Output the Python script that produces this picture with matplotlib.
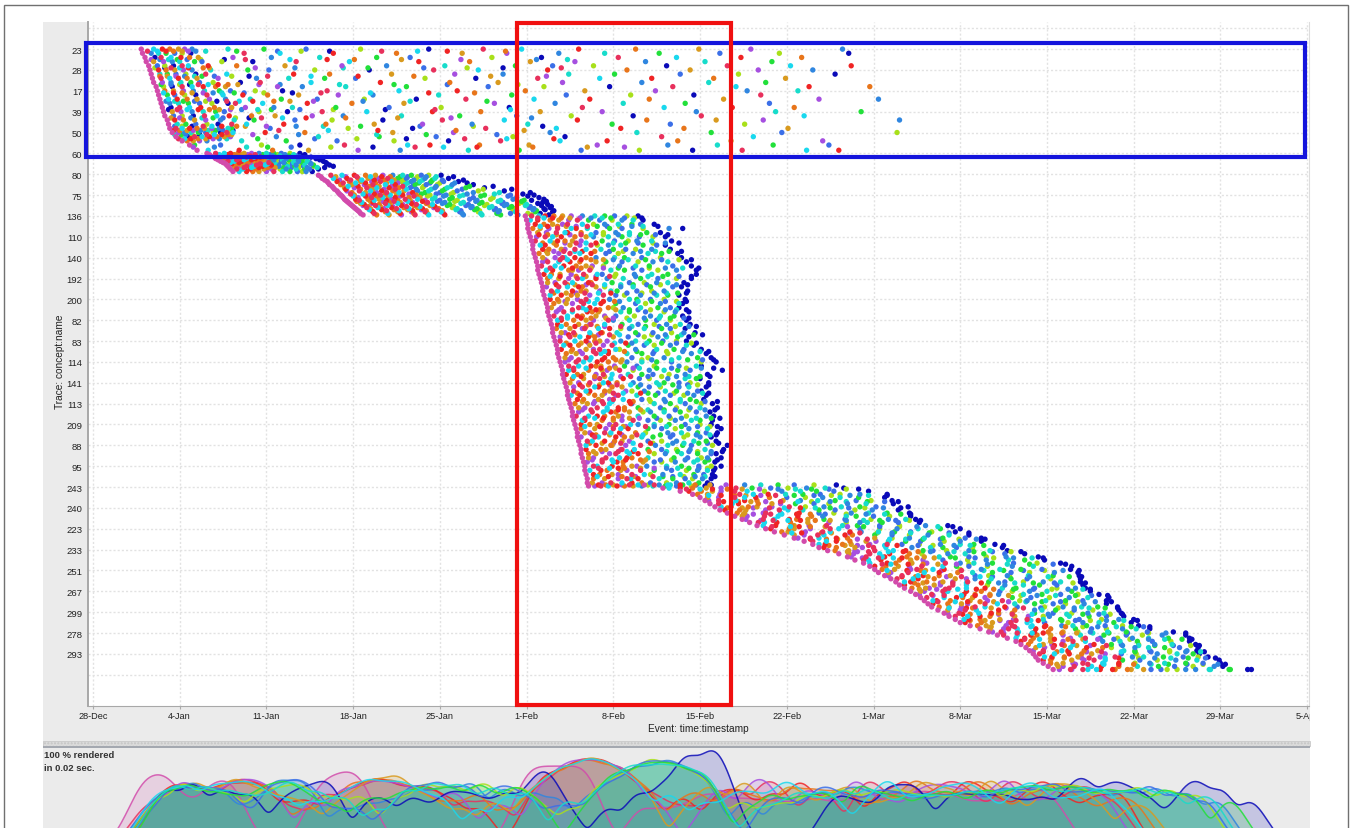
import numpy as np
from matplotlib import pyplot as plt
from matplotlib.patches import Rectangle
from matplotlib.transforms import Bbox

W, H = 1350, 829

x_labels = ['28-Dec', '4-Jan', '11-Jan', '18-Jan', '25-Jan', '1-Feb', '8-Feb', '15-Feb', '22-Feb',
            '1-Mar', '8-Mar', '15-Mar', '22-Mar', '29-Mar', '5-Apr']
y_labels = ['23', '28', '17', '39', '50', '60', '80', '75', '136', '110', '140', '192', '200', '82', '83',
            '114', '141', '113', '209', '88', '95', '243', '240', '223', '233', '251', '267', '299', '278', '293', '']

activity_colors = ['#d24bab', '#e8305c', '#19d8ee', '#f02424', '#e8751a', '#d99a1e', '#a64fe0',
                   '#2f86e0', '#17dccb', '#22e03a', '#3b6fe8', '#a8e01a', '#0a0ab8']

# days since 28-Dec, one list per case
a_rows = [0.0, 0.2, 0.4, 0.6, 0.8, 1.0, 1.2, 1.4, 1.6, 1.8, 2.0, 2.2, 2.4, 2.6, 2.8, 3.0, 3.2, 3.4, 3.6, 3.8, 4.0,
          4.2, 4.4, 4.6, 4.85]
a_days = [
    [3.9, 4.9, 5.6, 6.2, 6.9, 7.4, 8.0, 10.9, 13.8, 17.2, 21.6, 27.1, 31.5, 34.6, 39.2, 43.8, 48.9, 53.1, 60.5],
    [4.0, 4.7, 5.3, 5.9, 6.6, 7.2, 7.9, 12.2, 15.1, 19.4, 24.5, 29.8, 33.4, 37.6, 41.3, 45.7, 50.6, 55.4, 61.0],
    [4.2, 5.0, 5.5, 6.3, 7.1, 7.8, 8.5, 11.3, 14.4, 18.3, 22.9, 25.6, 32.2, 36.2, 42.4, 47.1, 52.3, 57.2],
    [4.3, 4.9, 5.7, 6.4, 7.0, 8.2, 8.8, 10.4, 12.9, 16.4, 20.7, 26.3, 30.4, 35.3, 38.9, 44.6, 49.4, 54.8],
    [4.5, 5.2, 5.8, 6.5, 7.2, 7.7, 9.3, 11.6, 15.5, 20.1, 23.7, 28.4, 34.1, 37.1, 40.4, 46.3, 51.2, 56.3, 61.2],
    [4.6, 5.3, 5.9, 6.6, 7.3, 8.0, 9.5, 12.5, 14.2, 17.9, 22.3, 27.5, 31.1, 36.7, 43.1, 48.2, 53.7, 58.1],
    [4.7, 5.4, 6.0, 6.7, 7.5, 8.3, 9.1, 10.8, 16.2, 19.1, 24.1, 29.2, 33.1, 38.4, 42.1, 47.4, 52.1, 59.9],
    [4.8, 5.5, 6.2, 6.9, 7.6, 8.4, 10.1, 13.2, 15.8, 18.7, 21.2, 26.8, 30.9, 35.9, 40.9, 45.1, 50.1, 55.9],
    [4.9, 5.6, 6.3, 7.1, 7.9, 8.6, 9.7, 11.9, 13.5, 17.6, 23.2, 28.8, 32.7, 37.9, 44.3, 49.7, 54.3],
    [5.1, 5.7, 6.4, 7.2, 8.0, 8.9, 9.9, 10.7, 14.9, 16.9, 20.4, 25.3, 31.9, 36.4, 41.7, 46.8, 51.9, 57.8, 62.7],
    [5.2, 5.8, 6.5, 7.3, 8.1, 9.0, 10.2, 11.1, 13.1, 15.3, 18.9, 24.7, 29.4, 34.9, 39.7, 45.4, 52.8, 56.9],
    [5.3, 6.0, 6.6, 7.4, 8.3, 9.2, 10.5, 12.1, 14.1, 16.6, 19.8, 22.6, 27.9, 33.8, 38.2, 43.4, 48.5, 53.9],
    [5.4, 6.1, 6.8, 7.6, 8.4, 9.4, 10.7, 12.7, 15.2, 18.1, 21.9, 26.1, 30.1, 35.6, 40.1, 44.9, 50.9, 58.6, 63.4],
    [5.5, 6.2, 6.9, 7.7, 8.6, 9.6, 10.9, 11.5, 13.7, 17.3, 20.9, 25.1, 32.4, 37.3, 42.8, 47.8, 54.6],
    [5.6, 6.3, 7.0, 7.8, 8.7, 9.8, 11.2, 12.3, 14.6, 16.1, 19.6, 23.9, 28.1, 33.6, 39.5, 46.1, 51.6, 56.6],
    [5.7, 6.4, 7.1, 8.0, 8.9, 9.9, 10.6, 13.4, 15.7, 18.5, 22.1, 27.4, 31.3, 36.1, 41.1, 48.7, 55.1, 62.0],
    [5.8, 6.5, 7.2, 8.1, 9.0, 10.0, 11.0, 12.8, 14.7, 17.7, 20.2, 24.9, 29.6, 34.2, 38.6, 43.6, 49.1, 57.4],
    [6.0, 6.6, 7.3, 8.2, 9.1, 10.3, 11.4, 13.0, 16.3, 19.3, 23.4, 28.2, 33.2, 39.1, 44.7, 50.3, 54.1, 65.1],
    [6.1, 6.8, 7.5, 8.3, 9.2, 10.1, 11.2, 12.4, 15.4, 18.8, 22.7, 26.6, 30.6, 35.1, 41.9, 46.6, 52.6],
    [6.2, 6.7, 7.2, 7.8, 8.4, 9.0, 9.6, 10.2, 10.9, 11.2, 14.3, 20.6, 25.8, 31.7, 37.4, 42.6, 47.7, 56.1],
    [6.4, 6.9, 7.4, 7.9, 8.5, 9.1, 9.7, 10.3, 10.8, 11.3, 13.9, 17.1, 24.2, 29.1, 36.9, 43.9, 49.9, 55.6, 64.9],
    [6.7, 7.2, 7.7, 8.2, 8.8, 9.4, 10.0, 10.6, 11.1, 14.8, 18.2, 23.1, 27.7, 33.9, 38.1, 45.9, 53.3],
    [7.2, 7.6, 8.1, 8.6, 9.2, 12.0, 15.6, 19.7, 24.3, 28.7, 32.9, 37.7, 41.5, 47.2, 51.5, 58.9],
    [7.8, 8.2, 10.3, 13.6, 16.7, 20.3, 25.4, 27.2, 31.2, 35.2, 40.7, 46.4, 50.4, 54.9, 59.4],
    [8.4, 9.3, 11.8, 14.5, 17.4, 21.4, 24.8, 30.3, 34.4, 39.4, 44.1, 48.4, 52.4, 57.6, 60.2],
]
a2_rows = [0.1, 0.5, 0.9, 1.3, 1.7, 2.1, 2.5, 2.9, 3.3, 3.7, 3.9, 4.1, 4.3, 4.7]
a2_days = [
    [4.4, 5.2, 5.9, 6.5, 7.2, 7.7, 8.3, 9.1, 11.6, 14.9, 16.8, 19.1, 23.3, 26.2, 28.6, 33.3],
    [4.7, 5.4, 6.1, 6.8, 7.6, 8.7, 10.6, 12.3, 15.9, 18.9, 21.1, 24.9, 29.7, 35.8, 38.3],
    [5.0, 5.8, 6.3, 7.0, 7.7, 8.9, 9.4, 13.1, 16.3, 20.2, 22.2, 26.7, 30.2, 33.1, 37.8],
    [5.4, 6.0, 6.7, 7.4, 8.2, 8.8, 9.8, 11.2, 12.6, 14.1, 17.6, 21.4, 25.9, 32.1, 36.6],
    [5.5, 6.3, 7.0, 7.8, 8.5, 9.3, 10.1, 10.9, 11.7, 13.4, 15.1, 19.9, 24.3, 28.6, 34.3],
    [5.7, 6.5, 7.2, 8.0, 8.9, 9.7, 10.4, 11.4, 12.2, 13.8, 16.1, 18.4, 22.4, 27.1, 30.8],
    [5.9, 6.6, 7.3, 8.2, 9.1, 10.0, 10.8, 11.8, 12.9, 14.6, 15.9, 17.8, 21.8, 25.6, 31.8],
    [6.1, 6.8, 7.6, 8.5, 9.4, 10.2, 11.1, 12.0, 13.3, 14.4, 16.7, 19.4, 23.6, 27.6, 33.7],
    [6.3, 7.0, 7.9, 8.8, 9.7, 10.5, 11.5, 12.6, 13.6, 15.3, 17.2, 20.4, 24.6, 28.9, 35.4],
    [6.6, 7.2, 8.0, 8.9, 9.6, 10.4, 11.6, 12.3, 14.0, 16.4, 18.6, 21.6, 26.4, 30.7, 36.3],
    [6.5, 7.0, 7.6, 8.1, 8.7, 9.3, 9.9, 10.5, 11.0, 11.3, 15.0, 19.0, 23.0, 29.3, 34.8],
    [6.6, 7.1, 7.5, 8.0, 8.6, 9.2, 9.8, 10.4, 10.9, 11.2, 12.9, 16.6, 22.9, 26.9, 32.6],
    [6.9, 7.4, 7.9, 8.5, 9.1, 9.7, 10.2, 10.8, 13.3, 17.9, 21.3, 25.3, 30.0, 33.4, 37.2],
    [8.1, 9.8, 12.4, 14.1, 16.0, 19.2, 22.6, 26.0, 28.3, 31.0, 35.5, 39.9, 42.9],
]

b_rows = [5.0, 5.06, 5.12, 5.18, 5.25, 5.31, 5.38, 5.44, 5.5, 5.56, 5.62, 5.68, 5.75, 5.87]
b_days = [
    [9.2, 9.9, 10.6, 11.1, 11.7, 12.2, 12.8, 13.4, 14.0, 14.6, 15.2, 15.9, 16.7],
    [9.4, 10.2, 10.9, 11.4, 12.0, 12.5, 13.1, 13.7, 14.3, 14.9, 15.5, 16.2, 17.1],
    [9.5, 10.3, 11.0, 11.5, 12.1, 12.7, 13.2, 13.9, 14.5, 15.1, 15.8, 16.4, 17.0],
    [9.8, 10.6, 11.3, 11.9, 12.4, 13.0, 13.5, 14.1, 14.8, 15.4, 16.1, 16.7, 17.6],
    [9.9, 10.5, 11.2, 11.8, 12.4, 13.1, 13.6, 14.2, 14.9, 15.6, 16.2, 16.9, 18.0],
    [10.1, 10.8, 11.6, 12.2, 12.8, 13.3, 13.8, 14.6, 15.3, 15.8, 16.5, 17.2, 18.3],
    [10.3, 10.9, 11.4, 12.0, 12.6, 13.3, 13.9, 14.5, 15.2, 15.9, 16.6, 17.3, 18.6],
    [10.5, 11.1, 11.8, 12.5, 13.1, 13.6, 14.2, 14.8, 15.4, 16.2, 16.9, 17.5, 18.8],
    [10.7, 11.2, 11.7, 12.3, 12.9, 13.5, 14.1, 14.7, 15.5, 16.1, 16.8, 17.6, 18.9],
    [10.8, 11.5, 12.0, 12.6, 13.2, 13.9, 14.4, 15.0, 15.8, 16.4, 17.1, 17.8, 19.1],
    [10.9, 11.4, 11.9, 12.4, 13.0, 13.7, 14.3, 15.0, 15.7, 16.3, 17.0, 17.8, 19.4],
    [11.0, 11.5, 12.2, 12.8, 13.4, 14.1, 14.7, 15.4, 16.0, 16.6, 17.3, 18.1, 18.7],
    [11.1, 11.6, 12.1, 12.7, 13.2, 13.8, 14.4, 15.1, 15.6, 16.4, 17.1, 17.5, 18.2],
    [11.3, 11.8, 12.4, 12.9, 13.4, 14.0, 14.6, 15.3, 15.9, 16.5, 16.9, 17.2, 17.7],
]

c_rows = [6.05, 6.2, 6.35, 6.5, 6.65, 6.8, 6.95, 7.05, 7.2, 7.3, 7.4, 7.5, 7.6, 7.7, 7.8, 7.95,
          6.12, 6.28, 6.42, 6.58, 6.72, 6.88, 7.0, 7.12, 7.25, 7.35, 7.45, 7.55, 7.65, 7.75, 7.88]
c_days = [
    [18.2, 19.2, 20.1, 21.1, 22.0, 22.8, 23.4, 24.2, 25.0, 25.7, 26.5, 27.1, 28.1],
    [18.5, 19.4, 20.5, 21.4, 22.2, 23.0, 23.8, 24.6, 25.3, 26.1, 26.8, 27.6, 28.7],
    [18.9, 19.7, 20.7, 21.6, 22.5, 23.2, 24.1, 24.9, 25.7, 26.4, 27.3, 28.3, 29.5],
    [19.1, 20.0, 20.9, 21.9, 22.6, 23.6, 24.4, 25.2, 26.0, 26.9, 27.8, 29.0, 30.7],
    [19.4, 20.3, 21.1, 22.1, 22.9, 23.9, 24.7, 25.6, 26.6, 27.6, 28.6, 30.1, 31.6],
    [19.7, 20.5, 21.5, 22.4, 23.3, 24.2, 25.1, 26.2, 27.1, 28.2, 29.4, 31.1, 33.2],
    [19.9, 20.8, 21.8, 22.7, 23.6, 24.5, 25.5, 26.5, 27.7, 28.9, 30.2, 32.4, 34.7],
    [20.1, 21.0, 22.0, 22.9, 23.8, 24.8, 25.9, 27.0, 28.3, 29.6, 31.3, 33.5, 35.1],
    [20.3, 21.2, 22.2, 23.1, 24.1, 25.2, 26.2, 27.4, 28.8, 30.4, 32.1, 33.9, 36.4],
    [20.5, 21.3, 22.4, 23.4, 24.3, 25.4, 26.6, 27.8, 29.2, 30.9, 32.7, 34.6, 36.6],
    [20.7, 21.6, 22.5, 23.6, 24.6, 25.7, 26.9, 28.2, 29.7, 31.2, 33.0, 34.4, 35.9],
    [20.9, 21.8, 22.8, 23.8, 24.9, 25.9, 27.2, 28.6, 30.1, 31.6, 33.2, 34.9, 36.2],
    [21.1, 22.1, 23.0, 24.1, 25.1, 26.2, 27.5, 29.0, 30.5, 32.0, 33.6, 35.2, 36.9],
    [21.3, 22.3, 23.3, 24.3, 25.4, 26.5, 27.8, 29.3, 30.8, 32.4, 33.9, 35.5, 36.5],
    [21.5, 22.6, 23.6, 24.6, 25.7, 26.8, 28.1, 29.6, 31.1, 32.7, 34.1, 35.7, 37.1],
    [21.8, 22.9, 23.9, 24.9, 26.0, 27.1, 28.4, 29.9, 31.4, 32.9, 34.3, 35.4, 36.8],
    [18.4, 19.6, 20.4, 21.3, 22.4, 23.3, 24.0, 24.8, 25.4, 26.2, 26.9, 27.7, 29.1],
    [18.7, 19.9, 20.8, 21.7, 22.7, 23.5, 24.3, 25.1, 25.9, 26.6, 27.4, 28.2, 29.9],
    [19.0, 20.2, 21.2, 22.0, 22.8, 23.7, 24.6, 25.4, 26.3, 27.2, 28.0, 29.2, 30.2],
    [19.3, 20.6, 21.4, 22.3, 23.1, 24.1, 25.0, 25.8, 26.7, 27.7, 28.9, 30.4, 32.3],
    [19.5, 20.4, 21.6, 22.6, 23.5, 24.4, 25.3, 26.1, 27.3, 28.4, 29.8, 31.5, 33.8],
    [19.8, 20.9, 22.0, 22.9, 23.7, 24.7, 25.8, 26.8, 28.0, 29.1, 30.7, 32.8, 35.3],
    [20.0, 21.1, 22.3, 23.2, 24.0, 25.0, 26.1, 27.2, 28.5, 29.9, 31.6, 33.7, 35.6],
    [20.2, 21.4, 22.5, 23.4, 24.4, 25.5, 26.4, 27.6, 29.0, 30.7, 32.3, 34.2, 36.0],
    [20.4, 21.5, 22.7, 23.7, 24.6, 25.6, 26.8, 28.0, 29.4, 31.0, 32.9, 34.8, 35.4],
    [20.6, 21.7, 22.6, 23.9, 24.8, 25.8, 27.0, 28.4, 29.9, 31.4, 33.1, 34.7, 36.3],
    [20.8, 21.9, 23.1, 24.0, 25.0, 26.1, 27.4, 28.8, 30.3, 31.8, 33.4, 35.0, 36.7],
    [21.0, 22.2, 23.2, 24.2, 25.3, 26.4, 27.6, 29.1, 30.6, 32.2, 33.8, 35.3, 37.0],
    [21.2, 22.4, 23.5, 24.5, 25.5, 26.6, 27.9, 29.4, 31.0, 32.5, 34.0, 35.6, 36.4],
    [21.4, 22.5, 23.7, 24.7, 25.8, 26.9, 28.2, 29.7, 31.2, 32.8, 34.2, 35.8, 37.2],
    [21.6, 22.7, 23.8, 24.8, 25.9, 27.0, 28.3, 29.8, 31.3, 32.6, 33.7, 35.1, 36.1],
]

d_rows = [8.0, 8.2, 8.4, 8.6, 8.8, 9.0, 9.2, 9.4, 9.6, 9.8, 10.0, 10.2, 10.4, 10.6, 10.8, 11.0, 11.2, 11.4, 11.6,
          11.8, 12.0, 12.2, 12.4, 12.6, 12.8, 13.0, 13.2, 13.4, 13.6, 13.8, 14.0, 14.2, 14.4, 14.6, 14.8, 15.0,
          15.2, 15.4, 15.6, 15.8, 16.0, 16.2, 16.4, 16.6, 16.8, 17.0, 17.2, 17.4, 17.6, 17.8, 18.0, 18.2, 18.4,
          18.6, 18.8, 19.0, 19.2, 19.4, 19.6, 19.8, 20.0, 20.2, 20.4, 20.6, 20.8, 20.95]
d_starts = [34.9, 35.0, 35.1, 35.1, 35.2, 35.3, 35.4, 35.5, 35.5, 35.6, 35.7, 35.8, 35.9, 35.9, 36.0, 36.1, 36.2,
            36.3, 36.3, 36.4, 36.5, 36.6, 36.7, 36.7, 36.8, 36.9, 37.0, 37.1, 37.1, 37.2, 37.3, 37.4, 37.5, 37.5,
            37.6, 37.7, 37.8, 37.9, 37.9, 38.0, 38.1, 38.2, 38.3, 38.3, 38.4, 38.5, 38.6, 38.7, 38.7, 38.8, 38.9,
            39.0, 39.1, 39.1, 39.2, 39.3, 39.4, 39.4, 39.5, 39.6, 39.7, 39.7, 39.8, 39.9, 39.9, 40.0]
d_offsets = [
    [0.5, 1.1, 1.6, 2.3, 3.0, 3.7, 4.6, 5.6, 6.4, 7.2, 8.2, 9.1],
    [0.3, 0.9, 1.9, 2.6, 3.4, 4.1, 5.0, 5.9, 6.9, 7.7, 8.6, 9.4],
    [0.6, 1.3, 2.0, 2.8, 3.2, 4.4, 5.3, 6.2, 7.3, 8.4, 9.1, 10.2],
    [0.4, 1.0, 1.7, 2.4, 3.5, 3.9, 4.8, 6.6, 7.6, 9.3, 11.4, 12.5],
    [0.7, 1.4, 2.2, 2.9, 3.1, 4.2, 5.4, 6.0, 7.0, 8.1, 9.5, 10.6],
    [0.5, 1.2, 1.8, 2.5, 3.6, 4.5, 5.1, 6.3, 7.4, 8.8, 9.9, 10.9],
    [0.3, 1.5, 2.1, 2.7, 3.3, 4.0, 5.7, 6.7, 7.8, 8.5, 9.7, 11.3],
    [0.6, 1.0, 1.9, 3.0, 3.8, 4.7, 5.2, 6.1, 7.1, 8.9, 10.0, 10.7],
    [0.8, 1.3, 2.3, 2.6, 3.4, 4.3, 5.5, 6.5, 7.5, 8.3, 9.6, 11.1],
    [0.4, 1.1, 2.0, 2.9, 3.7, 4.6, 5.8, 6.8, 8.0, 9.2, 10.3, 11.6],
    [0.6, 1.6, 2.2, 2.4, 3.2, 4.1, 4.9, 6.4, 7.2, 8.6, 10.1, 11.8],
    [0.5, 0.9, 1.8, 2.7, 3.5, 4.8, 5.6, 6.9, 8.2, 9.4, 10.6, 12.1],
    [0.3, 1.4, 2.1, 3.1, 3.9, 4.4, 5.3, 6.6, 7.9, 9.0, 10.9, 12.4],
    [0.7, 1.2, 2.5, 2.8, 3.3, 4.2, 5.9, 7.0, 8.4, 9.7, 11.2, 12.8],
    [0.4, 1.0, 1.7, 2.6, 3.6, 4.7, 5.1, 6.2, 7.7, 9.1, 10.4, 12.7],
    [0.6, 1.5, 2.3, 3.0, 3.4, 4.5, 5.4, 6.7, 8.1, 9.5, 11.0, 12.2],
    [0.5, 1.1, 1.9, 2.5, 3.8, 4.0, 5.7, 7.1, 8.3, 9.3, 10.2, 11.5],
    [0.3, 1.3, 2.0, 2.9, 3.2, 4.3, 5.0, 6.3, 7.3, 8.7, 10.5, 11.2],
    [0.7, 1.2, 2.4, 3.1, 3.5, 4.6, 5.5, 6.0, 7.6, 8.8, 9.8, 11.7],
    [0.5, 1.4, 2.2, 2.7, 3.7, 4.8, 5.8, 6.5, 7.8, 9.1, 10.0, 10.9],
    [0.4, 1.0, 1.8, 2.6, 3.3, 4.2, 5.2, 6.8, 7.4, 8.5, 9.6, 11.3],
    [0.6, 1.6, 2.1, 3.0, 3.9, 4.4, 5.6, 7.2, 8.0, 9.2, 10.7, 11.0],
    [0.3, 1.1, 2.5, 2.8, 3.4, 4.9, 5.3, 6.1, 7.5, 8.9, 9.9, 10.6],
    [0.7, 1.3, 2.0, 3.2, 3.6, 4.1, 5.9, 6.6, 7.9, 9.4, 10.3, 11.4],
    [0.4, 1.5, 2.3, 2.7, 3.8, 4.5, 5.4, 6.9, 8.2, 9.0, 10.1, 10.8],
    [0.6, 0.9, 1.9, 2.9, 3.5, 4.7, 5.1, 6.4, 7.7, 8.6, 9.7, 11.0],
    [0.5, 1.2, 2.2, 3.1, 3.2, 4.3, 5.7, 7.0, 8.3, 9.3, 10.4, 11.2],
    [0.3, 1.4, 2.4, 2.6, 3.7, 4.6, 5.5, 6.2, 7.4, 8.8, 9.5, 10.7],
    [0.7, 1.0, 1.7, 3.0, 3.9, 4.0, 5.2, 6.7, 8.1, 9.6, 10.6, 11.5],
    [0.5, 1.3, 2.1, 2.8, 3.3, 4.8, 6.0, 7.3, 8.4, 9.1, 10.0, 10.9],
    [0.4, 1.6, 2.5, 3.2, 3.6, 4.2, 5.3, 6.5, 7.6, 8.7, 9.8, 10.6],
    [0.6, 1.1, 1.8, 2.7, 3.8, 4.5, 5.8, 7.1, 7.9, 9.2, 10.5, 11.1],
    [0.3, 1.2, 2.3, 2.9, 3.4, 4.7, 5.0, 6.3, 8.0, 9.4, 10.2, 11.6],
    [0.7, 1.5, 2.0, 3.1, 3.5, 4.1, 5.6, 6.8, 7.7, 8.9, 10.8, 12.0],
    [0.5, 1.0, 2.2, 2.6, 3.7, 4.4, 5.9, 7.2, 8.5, 9.7, 11.2, 12.3],
    [0.4, 1.3, 1.9, 3.0, 3.9, 4.9, 5.4, 6.6, 7.8, 9.0, 11.4, 12.6],
    [0.6, 1.4, 2.4, 2.8, 3.2, 4.3, 5.1, 6.1, 7.5, 9.5, 10.9, 11.3],
    [0.5, 0.9, 2.1, 3.2, 3.6, 4.6, 5.7, 7.0, 8.2, 9.3, 10.3, 12.9],
    [0.3, 1.2, 1.7, 2.7, 3.3, 4.0, 5.3, 6.4, 7.3, 8.6, 9.9, 11.7],
    [0.7, 1.6, 2.5, 2.9, 3.8, 4.8, 6.1, 6.9, 8.4, 9.8, 10.7, 11.0],
    [0.4, 1.1, 2.0, 3.1, 3.5, 4.2, 5.5, 7.4, 8.0, 9.2, 10.1, 11.6],
    [0.6, 1.3, 2.3, 2.6, 3.7, 4.5, 5.8, 6.7, 7.6, 9.1, 9.9, 11.3],
    [0.5, 1.5, 1.8, 3.0, 3.4, 4.7, 5.2, 6.2, 7.9, 8.8, 10.5, 10.8],
    [0.3, 1.0, 2.2, 2.8, 3.9, 4.1, 5.6, 7.1, 8.3, 9.4, 10.2, 11.2],
    [0.7, 1.2, 2.4, 3.3, 3.6, 4.4, 5.9, 6.5, 7.7, 9.0, 9.8, 10.9],
    [0.4, 1.4, 1.9, 2.7, 3.2, 4.9, 5.0, 6.8, 8.1, 9.3, 10.6, 11.5],
    [0.6, 1.1, 2.1, 2.9, 3.8, 4.3, 5.4, 7.2, 8.5, 9.6, 10.4, 11.8],
    [0.5, 1.6, 2.5, 3.1, 3.5, 4.6, 5.7, 6.3, 7.4, 8.7, 10.0, 11.1],
    [0.3, 1.3, 2.0, 2.6, 3.7, 4.0, 5.3, 6.6, 7.8, 9.2, 10.8, 11.4],
    [0.7, 0.9, 2.3, 3.2, 3.9, 4.8, 6.0, 7.0, 8.2, 9.5, 10.2, 11.2],
    [0.5, 1.2, 1.8, 2.8, 3.3, 4.5, 5.1, 6.4, 7.6, 8.9, 10.1, 11.0],
    [0.4, 1.5, 2.4, 3.0, 3.6, 4.2, 5.8, 6.9, 8.0, 9.1, 10.6, 11.7],
    [0.6, 1.0, 2.2, 2.7, 3.4, 4.7, 5.5, 7.3, 8.4, 9.7, 10.4, 11.3],
    [0.3, 1.4, 1.7, 3.1, 3.8, 4.4, 5.2, 6.1, 7.5, 8.6, 9.9, 10.8],
    [0.7, 1.1, 2.1, 2.9, 3.5, 4.1, 5.6, 6.7, 7.9, 9.3, 10.3, 11.1],
    [0.5, 1.3, 2.5, 2.6, 3.7, 4.9, 6.1, 7.1, 8.3, 9.0, 10.7, 11.9],
    [0.4, 1.6, 2.0, 3.2, 3.3, 4.3, 5.4, 6.5, 7.7, 8.8, 10.0, 11.5],
    [0.6, 1.2, 2.3, 2.8, 3.9, 4.6, 5.9, 6.8, 8.1, 9.4, 10.5, 10.9],
    [0.5, 0.9, 1.9, 3.0, 3.6, 4.0, 5.3, 7.4, 8.5, 9.6, 10.1, 11.2],
    [0.3, 1.5, 2.4, 2.7, 3.2, 4.8, 5.7, 6.3, 7.4, 8.9, 9.8, 10.6],
    [0.7, 1.0, 2.2, 3.1, 3.8, 4.2, 5.0, 6.6, 7.8, 9.2, 10.2, 11.0],
    [0.4, 1.3, 1.8, 2.9, 3.4, 4.5, 5.6, 7.0, 8.2, 9.1, 9.9, 10.4],
    [0.6, 1.1, 2.1, 2.6, 3.7, 4.7, 5.2, 6.2, 7.6, 8.7, 9.5, 10.2],
    [0.5, 1.4, 2.5, 3.2, 3.5, 4.1, 5.8, 6.9, 7.9, 8.5, 9.3, 10.0],
    [0.4, 1.2, 1.9, 2.8, 3.6, 4.4, 5.1, 6.4, 7.2, 8.2, 9.0, 9.7],
    [0.5, 1.0, 1.6, 2.3, 2.9, 3.6, 4.3, 5.2, 6.2, 7.1, 8.3, 9.4],
]

# cases lying between the rows above
d2_rows = [8.1, 8.5, 8.9, 9.3, 9.7, 10.1, 10.5, 10.9, 11.3, 11.7, 12.1, 12.5, 12.9, 13.3, 13.7, 14.1, 14.5, 14.9,
           15.3, 15.7, 16.1, 16.5, 16.9, 17.3, 17.7, 18.1, 18.5, 18.9, 19.3, 19.7, 20.1, 20.5, 20.9]
d2_starts = [35.0, 35.1, 35.2, 35.4, 35.5, 35.7, 35.9, 36.0, 36.2, 36.4, 36.5, 36.7, 36.8, 37.0, 37.2, 37.3, 37.5,
             37.6, 37.8, 37.9, 38.1, 38.3, 38.4, 38.6, 38.7, 38.9, 39.1, 39.2, 39.4, 39.5, 39.7, 39.8, 40.0]
d2_offsets = [
    [0.9, 1.4, 2.1, 2.8, 3.5, 4.3, 5.2, 6.1, 6.8, 7.9, 8.7, 9.3],
    [1.0, 1.6, 2.4, 3.1, 3.9, 4.8, 5.6, 6.4, 7.4, 8.4, 9.3, 10.5],
    [0.8, 1.5, 2.2, 3.3, 4.2, 5.0, 6.0, 7.2, 8.1, 9.0, 10.2, 11.2],
    [0.9, 1.8, 2.7, 3.6, 4.4, 5.2, 6.6, 7.6, 8.6, 9.8, 10.8, 11.9],
    [1.1, 1.7, 2.5, 3.4, 4.0, 5.0, 6.2, 7.3, 8.7, 9.9, 11.0, 12.0],
    [0.8, 2.0, 2.6, 3.7, 4.5, 5.5, 6.3, 7.5, 8.9, 10.2, 11.6, 12.6],
    [1.0, 1.9, 2.8, 3.5, 4.3, 5.3, 6.5, 7.7, 9.0, 10.3, 11.7, 13.0],
    [0.9, 1.7, 3.0, 3.8, 4.6, 5.7, 6.1, 7.8, 8.8, 10.0, 11.3, 12.3],
    [1.2, 2.1, 2.7, 3.6, 4.1, 5.1, 6.4, 7.4, 8.5, 9.6, 10.9, 11.8],
    [0.8, 1.8, 2.6, 3.3, 4.4, 5.4, 6.7, 7.9, 8.9, 9.9, 10.8, 11.5],
    [1.1, 1.6, 2.9, 3.5, 4.7, 5.6, 6.0, 7.5, 8.6, 9.7, 10.6, 11.4],
    [0.9, 2.0, 3.1, 3.9, 4.2, 5.5, 6.6, 7.3, 8.3, 9.5, 10.4, 11.2],
    [1.0, 1.5, 2.6, 3.4, 4.6, 5.2, 6.3, 7.7, 8.9, 9.8, 10.9, 11.3],
    [0.8, 1.9, 2.8, 3.7, 4.3, 5.6, 6.5, 7.6, 8.7, 10.0, 11.1, 11.7],
    [1.2, 1.7, 3.0, 3.6, 4.5, 5.3, 6.8, 7.9, 9.0, 10.3, 11.3, 12.0],
    [0.9, 2.1, 2.7, 3.3, 4.8, 5.7, 6.2, 7.4, 8.6, 9.8, 11.0, 11.4],
    [1.1, 1.8, 2.9, 3.8, 4.1, 5.4, 6.4, 7.8, 8.8, 10.1, 11.5, 12.2],
    [0.8, 1.6, 2.5, 3.5, 4.6, 5.1, 6.7, 7.5, 9.1, 10.4, 11.6, 12.5],
    [1.0, 2.0, 3.2, 3.9, 4.4, 5.8, 6.3, 7.7, 8.9, 10.1, 11.3, 12.3],
    [0.9, 1.5, 2.6, 3.4, 4.7, 5.5, 6.9, 8.0, 9.2, 10.2, 11.1, 11.9],
    [1.2, 1.9, 2.8, 3.6, 4.2, 5.3, 6.1, 7.6, 8.7, 9.9, 10.7, 11.6],
    [0.8, 1.7, 3.0, 3.7, 4.5, 5.9, 6.5, 7.3, 8.6, 9.7, 10.9, 11.4],
    [1.1, 2.1, 2.7, 3.5, 4.9, 5.2, 6.6, 7.8, 9.0, 10.3, 11.0, 12.0],
    [0.9, 1.6, 2.9, 3.8, 4.3, 5.6, 6.2, 7.5, 8.4, 9.5, 10.8, 11.6],
    [1.0, 1.8, 2.5, 3.3, 4.6, 5.4, 6.8, 7.9, 8.8, 10.0, 11.2, 11.9],
    [0.8, 2.0, 3.1, 3.9, 4.1, 5.7, 6.4, 7.4, 8.6, 9.9, 10.9, 11.5],
    [1.2, 1.5, 2.6, 3.6, 4.8, 5.3, 6.7, 7.7, 8.9, 9.6, 10.7, 11.2],
    [0.9, 1.9, 2.8, 3.4, 4.4, 5.8, 6.0, 7.6, 8.5, 9.7, 10.4, 11.3],
    [1.0, 1.7, 3.0, 3.7, 4.2, 5.5, 6.9, 7.8, 8.7, 9.4, 10.5, 11.4],
    [0.8, 1.6, 2.4, 3.5, 4.7, 5.1, 6.3, 7.2, 8.3, 9.3, 10.2, 10.9],
    [1.1, 2.0, 2.7, 3.2, 4.5, 5.6, 6.6, 7.5, 8.4, 9.2, 9.9, 10.5],
    [0.9, 1.8, 2.9, 3.8, 4.0, 5.4, 6.2, 7.0, 7.9, 8.8, 9.6, 10.4],
    [0.8, 1.4, 2.0, 2.7, 3.3, 4.0, 4.8, 5.7, 6.6, 7.6, 8.7, 9.9],
]

e_rows = [20.9, 21.05, 21.2, 21.35, 21.5, 21.65, 21.8, 21.95, 22.1, 22.25, 22.4, 22.55, 22.7, 22.85, 23.0, 23.15,
          23.3, 23.45, 23.6, 23.75, 23.9, 24.05, 24.2, 24.35, 24.5, 24.65, 24.8, 24.95, 25.1, 25.25, 25.4, 25.55,
          25.7, 25.85, 26.0, 26.15, 26.3, 26.45, 26.6, 26.75, 26.9, 27.05, 27.2, 27.35, 27.5, 27.65, 27.8, 27.95,
          28.1, 28.25, 28.4, 28.55, 28.7, 28.85, 29.0, 29.15, 29.3, 29.45, 29.6, 29.75]
e_starts = [44.5, 46.0, 47.4, 48.4, 49.0, 49.4, 49.8, 50.2, 50.6, 51.2, 51.8, 52.4, 53.0, 53.6, 54.3, 55.0, 55.8,
            56.6, 57.4, 58.1, 58.6, 59.3, 60.2, 60.9, 61.5, 62.2, 62.7, 63.1, 63.4, 63.9, 64.4, 64.8, 65.1, 65.5,
            66.0, 66.4, 66.8, 67.1, 67.4, 67.7, 68.2, 68.7, 69.1, 69.6, 70.0, 70.8, 71.6, 72.3, 73.0, 73.8, 74.5,
            74.9, 75.3, 75.6, 75.9, 76.1, 76.3, 76.7, 77.1, 77.5]
e_offsets = [
    [0.8, 1.9, 2.9, 4.1, 5.3, 6.6, 8.1, 9.4, 10.8, 12.1, 13.7, 15.5],
    [0.5, 1.4, 2.4, 3.5, 4.7, 5.9, 7.2, 8.7, 10.1, 11.6, 13.1, 14.6],
    [0.7, 1.7, 2.6, 3.3, 4.4, 5.4, 6.8, 8.2, 9.7, 11.0, 12.4, 15.2],
    [0.4, 1.2, 2.2, 3.8, 4.9, 6.1, 7.5, 8.9, 10.3, 11.9, 13.5, 15.7],
    [0.6, 1.5, 2.8, 3.6, 4.5, 5.6, 7.0, 8.5, 9.9, 11.3, 12.8, 14.9],
    [0.3, 1.1, 2.5, 3.2, 4.2, 6.3, 7.7, 9.1, 10.5, 12.2, 13.4, 15.1],
    [0.7, 1.8, 2.3, 3.9, 5.0, 5.7, 6.9, 8.4, 9.6, 11.1, 12.6, 14.8],
    [0.5, 1.3, 2.7, 3.4, 4.6, 6.0, 7.3, 8.8, 10.2, 11.7, 13.0, 15.6],
    [0.4, 1.6, 2.1, 3.7, 4.8, 5.5, 6.7, 8.0, 9.3, 10.9, 12.3, 14.4],
    [0.8, 1.4, 2.9, 3.1, 4.3, 5.8, 7.4, 8.6, 10.0, 11.4, 12.9, 14.7],
    [0.6, 1.0, 2.4, 3.5, 5.1, 6.2, 7.1, 9.0, 9.8, 11.2, 12.5, 14.2],
    [0.3, 1.7, 2.6, 3.8, 4.4, 5.3, 6.6, 8.3, 10.4, 11.8, 13.2, 14.0],
    [0.7, 1.2, 2.2, 3.3, 4.7, 6.4, 7.8, 8.9, 9.5, 10.7, 12.0, 13.7],
    [0.5, 1.5, 2.8, 3.0, 4.2, 5.6, 6.9, 8.1, 9.9, 11.5, 13.6, 15.4],
    [0.4, 1.9, 2.3, 3.6, 5.2, 5.9, 7.6, 9.2, 10.6, 12.3, 14.1, 15.7],
    [0.6, 1.1, 2.5, 3.9, 4.5, 6.1, 7.0, 8.4, 9.7, 11.0, 12.7, 14.6],
    [0.8, 1.6, 2.7, 3.2, 4.9, 5.5, 7.3, 8.7, 10.1, 11.6, 13.3, 14.9],
    [0.3, 1.3, 2.0, 3.4, 4.3, 6.5, 7.9, 9.3, 10.5, 12.0, 13.8, 15.1],
    [0.7, 1.8, 2.6, 3.7, 5.0, 5.8, 6.8, 8.2, 9.4, 11.3, 12.6, 14.3],
    [0.5, 1.0, 2.4, 3.1, 4.6, 6.0, 7.2, 8.6, 10.3, 11.9, 13.0, 14.7],
    [0.4, 1.4, 2.9, 3.5, 4.4, 5.4, 7.5, 9.0, 10.0, 11.1, 12.4, 14.8],
    [0.6, 1.7, 2.2, 3.8, 5.3, 6.3, 7.7, 8.5, 9.6, 11.4, 13.1, 14.5],
    [0.8, 1.2, 2.5, 3.3, 4.1, 5.7, 6.7, 8.8, 10.2, 11.7, 13.4, 15.0],
    [0.3, 1.5, 2.8, 3.0, 4.8, 6.2, 7.4, 8.3, 9.8, 11.2, 12.8, 15.4],
    [0.7, 1.1, 2.1, 3.6, 4.5, 5.5, 7.1, 9.1, 10.6, 12.4, 13.7, 15.3],
    [0.5, 1.9, 2.6, 3.9, 5.1, 6.6, 7.8, 8.9, 10.4, 12.1, 14.0, 15.9],
    [0.4, 1.3, 2.3, 3.2, 4.2, 5.9, 7.0, 8.0, 9.5, 11.5, 13.2, 16.3],
    [0.6, 1.6, 2.9, 3.4, 4.7, 5.6, 6.9, 8.6, 10.1, 11.8, 13.5, 15.8],
    [0.8, 1.0, 2.4, 3.7, 4.9, 6.4, 7.6, 9.2, 10.7, 12.2, 14.2, 16.1],
    [0.3, 1.4, 2.7, 3.1, 4.4, 5.3, 7.3, 8.4, 9.9, 11.6, 13.6, 15.7],
    [0.5, 1.8, 2.2, 3.5, 5.2, 6.1, 6.8, 8.1, 9.7, 11.0, 12.9, 15.3],
    [0.7, 1.2, 2.5, 3.8, 4.6, 5.8, 7.5, 8.8, 10.3, 11.9, 13.3, 14.9],
    [0.4, 1.5, 2.8, 3.3, 4.3, 5.4, 7.1, 8.5, 10.0, 11.3, 12.7, 14.8],
    [0.6, 1.7, 2.0, 3.6, 5.0, 6.5, 7.9, 9.0, 10.5, 12.3, 13.8, 14.6],
    [0.8, 1.1, 2.6, 3.0, 4.5, 5.7, 7.2, 8.2, 9.6, 11.0, 13.0, 14.5],
    [0.3, 1.3, 2.3, 3.9, 4.8, 6.0, 6.7, 8.7, 10.2, 11.7, 13.1, 14.8],
    [0.5, 1.9, 2.9, 3.4, 4.2, 5.2, 7.4, 8.9, 10.4, 12.0, 13.5, 15.2],
    [0.7, 1.0, 2.1, 3.7, 5.1, 6.3, 7.7, 8.3, 9.8, 11.4, 12.8, 14.7],
    [0.4, 1.6, 2.7, 3.2, 4.6, 5.6, 7.0, 8.6, 10.1, 11.1, 12.6, 14.4],
    [0.6, 1.4, 2.4, 3.5, 4.3, 5.9, 6.9, 9.1, 10.6, 12.1, 13.4, 15.0],
    [0.8, 1.8, 2.2, 3.1, 4.9, 6.2, 7.8, 8.4, 9.5, 11.0, 12.5, 14.6],
    [0.3, 1.2, 2.8, 3.8, 4.4, 5.5, 7.3, 8.8, 10.3, 11.6, 12.9, 14.3],
    [0.5, 1.5, 2.5, 3.3, 5.3, 6.4, 7.6, 8.1, 9.7, 11.3, 12.7, 14.1],
    [0.7, 1.1, 2.0, 3.6, 4.7, 5.8, 7.1, 8.5, 10.0, 11.8, 13.2, 14.4],
    [0.4, 1.7, 2.6, 3.9, 4.1, 5.4, 6.8, 8.7, 9.9, 11.2, 12.4, 13.8],
    [0.6, 1.3, 2.9, 3.4, 5.0, 6.1, 7.4, 8.3, 9.4, 10.9, 12.3, 13.6],
    [0.8, 1.9, 2.3, 3.0, 4.5, 5.7, 7.7, 9.0, 10.2, 11.5, 12.6, 13.7],
    [0.3, 1.0, 2.4, 3.7, 4.8, 6.0, 7.2, 8.2, 9.6, 11.1, 12.8, 14.9],
    [0.5, 1.6, 2.7, 3.2, 4.3, 5.3, 6.7, 8.6, 10.4, 11.7, 13.3, 15.2],
    [0.7, 1.4, 2.1, 3.5, 5.1, 6.3, 7.5, 8.9, 10.1, 11.4, 13.0, 14.7],
    [0.4, 1.2, 2.8, 3.8, 4.6, 5.6, 7.0, 8.4, 9.8, 11.0, 12.5, 14.0],
    [0.6, 1.8, 2.5, 3.3, 4.2, 5.9, 7.3, 8.1, 9.5, 10.8, 12.2, 14.1],
    [0.8, 1.5, 2.2, 3.6, 4.9, 6.2, 6.9, 8.8, 9.9, 11.2, 12.4, 13.9],
    [0.3, 1.1, 2.6, 3.1, 4.4, 5.5, 7.6, 8.5, 9.7, 11.3, 12.7, 13.5],
    [0.5, 1.7, 2.9, 3.9, 4.7, 5.8, 7.1, 8.3, 10.0, 11.6, 12.9, 13.4],
    [0.7, 1.3, 2.3, 3.4, 5.2, 6.4, 7.8, 8.7, 10.3, 11.9, 13.1, 13.9],
    [0.4, 1.0, 2.7, 3.7, 4.5, 5.4, 6.8, 8.2, 9.6, 11.1, 12.8, 14.6],
    [0.6, 1.6, 2.4, 3.2, 4.8, 6.1, 7.4, 8.6, 9.8, 11.5, 12.9, 14.3],
    [0.8, 1.2, 2.1, 3.5, 4.3, 5.7, 7.2, 8.9, 10.2, 11.7, 13.4, 14.1],
    [0.5, 1.4, 2.8, 3.8, 5.0, 6.3, 7.9, 9.2, 10.7, 12.6, 14.3, 16.0],
]

# cases lying between the rows above
e2_rows = [21.1, 21.4, 21.7, 22.0, 22.3, 22.6, 22.9, 23.2, 23.5, 23.8, 24.1, 24.4, 24.7, 25.0, 25.3, 25.6, 25.9,
           26.2, 26.5, 26.8, 27.1, 27.4, 27.7, 28.0, 28.3, 28.6, 28.9, 29.2, 29.5, 29.75]
e2_starts = [46.8, 48.7, 49.7, 50.3, 51.4, 52.6, 53.8, 55.2, 57.0, 58.3, 59.6, 61.1, 62.5, 63.2, 64.2, 65.0, 65.7,
             66.6, 67.3, 68.0, 68.9, 69.8, 71.3, 72.6, 74.1, 75.1, 75.7, 76.2, 76.9, 77.9]
e2_offsets = [
    [1.1, 2.2, 3.2, 4.4, 5.6, 7.0, 8.5, 9.9, 11.2, 12.6, 14.0, 15.0],
    [1.0, 2.0, 3.1, 4.0, 5.2, 6.4, 7.9, 9.5, 10.9, 12.4, 13.9, 15.4],
    [1.2, 2.4, 3.4, 4.6, 5.8, 7.2, 8.3, 9.8, 11.1, 12.8, 14.2, 15.3],
    [0.9, 2.1, 3.0, 4.3, 5.5, 6.8, 8.0, 9.2, 10.7, 12.0, 13.5, 14.9],
    [1.1, 1.9, 3.3, 4.2, 5.4, 6.5, 7.7, 9.4, 11.0, 12.5, 13.8, 14.6],
    [1.3, 2.3, 3.5, 4.5, 5.7, 6.9, 8.2, 9.6, 10.9, 12.2, 13.3, 14.2],
    [1.0, 2.5, 3.2, 4.1, 5.3, 7.1, 8.4, 9.7, 11.3, 12.7, 14.4, 15.6],
    [1.2, 2.0, 3.6, 4.4, 5.9, 6.7, 8.1, 9.3, 10.8, 12.3, 13.9, 15.5],
    [0.9, 2.2, 3.1, 4.7, 5.5, 7.3, 8.6, 10.0, 11.4, 12.9, 14.3, 15.0],
    [1.1, 2.4, 3.4, 4.3, 5.6, 6.6, 8.3, 9.5, 11.2, 12.5, 13.6, 15.2],
    [1.3, 2.1, 3.0, 4.6, 5.8, 7.0, 8.0, 9.9, 11.5, 13.0, 14.5, 15.3],
    [1.0, 2.3, 3.5, 4.2, 5.4, 6.8, 8.5, 10.1, 11.6, 13.2, 14.7, 15.6],
    [1.2, 1.9, 3.3, 4.5, 5.7, 7.2, 8.2, 9.7, 11.3, 13.1, 15.0, 16.0],
    [0.9, 2.5, 3.6, 4.0, 5.3, 6.9, 8.7, 10.3, 11.9, 13.6, 15.1, 16.4],
    [1.1, 2.2, 3.2, 4.7, 5.9, 7.4, 8.4, 9.8, 11.4, 12.9, 14.6, 15.6],
    [1.3, 2.0, 3.4, 4.4, 5.5, 6.7, 8.1, 9.4, 10.9, 12.6, 14.1, 15.1],
    [1.0, 2.4, 3.1, 4.1, 5.6, 7.0, 8.6, 10.2, 11.7, 13.0, 14.2, 14.8],
    [1.2, 2.1, 3.5, 4.6, 5.8, 7.3, 8.3, 9.6, 11.1, 12.7, 14.0, 15.3],
    [0.9, 2.3, 3.3, 4.3, 5.4, 6.6, 8.0, 9.3, 10.8, 12.2, 13.6, 14.9],
    [1.1, 2.5, 3.0, 4.5, 5.7, 7.1, 8.5, 9.9, 11.2, 12.4, 13.7, 14.7],
    [1.3, 1.9, 3.6, 4.2, 5.3, 6.9, 8.2, 9.7, 11.0, 12.3, 13.2, 14.2],
    [1.0, 2.2, 3.4, 4.7, 5.9, 6.5, 8.4, 9.5, 10.7, 12.0, 13.4, 14.5],
    [1.2, 2.4, 3.1, 4.4, 5.5, 7.2, 8.6, 9.8, 11.3, 12.5, 13.5, 14.0],
    [0.9, 2.0, 3.2, 4.1, 5.6, 6.8, 8.1, 9.4, 10.9, 12.6, 14.0, 15.6],
    [1.1, 2.3, 3.5, 4.6, 5.8, 7.0, 8.3, 9.6, 11.1, 12.4, 13.8, 14.6],
    [1.3, 2.5, 3.3, 4.3, 5.4, 6.7, 8.0, 9.3, 10.6, 12.1, 13.5, 14.2],
    [1.0, 2.1, 3.0, 4.5, 5.7, 7.3, 8.4, 9.7, 11.2, 12.5, 13.7, 14.0],
    [1.2, 2.2, 3.6, 4.2, 5.5, 6.6, 8.2, 9.5, 10.8, 12.2, 13.6, 14.4],
    [0.9, 2.4, 3.4, 4.7, 5.9, 7.1, 8.5, 9.9, 11.4, 12.7, 13.9, 14.5],
    [1.1, 2.0, 3.1, 4.4, 5.6, 6.9, 8.3, 9.6, 11.1, 12.3, 13.8, 15.3],
]


def px_x(x):
    return x / W


def px_y(y):
    return 1 - y / H


def add_box(fig, x0, y0, x1, y1, **kw):
    fig.add_artist(Rectangle((px_x(x0), px_y(y1)), (x1 - x0) / W, (y1 - y0) / H, transform=fig.transFigure, **kw))


def activity_of(i, k):
    # warm and cool activities swap places from case to case, first and last stay put
    if i == 0 or i == 12:
        return i
    if i <= 6:
        return (i - 1 + k) % 6 + 1
    return (i - 7 + 2 * k) % 5 + 7


def collect_points():
    # one (day, row, activity) triple per dot
    days, rows, acts = [], [], []
    for case_rows, cases in [(a_rows, a_days), (a2_rows, a2_days)]:
        for k, (r, case) in enumerate(zip(case_rows, cases)):
            for i, d in enumerate(case):
                days.append(d)
                rows.append(r)
                acts.append(0 if i == 0 and case_rows is a_rows else (i + k * 5) % 12 + 1)
    for case_rows, cases in [(b_rows, b_days), (c_rows, c_days)]:
        for k, (r, case) in enumerate(zip(case_rows, cases)):
            for i, d in enumerate(case):
                days.append(d)
                rows.append(r)
                acts.append(activity_of(i, k))
    for case_rows, starts, offsets in [(d_rows, d_starts, d_offsets), (d2_rows, d2_starts, d2_offsets),
                                       (e_rows, e_starts, e_offsets), (e2_rows, e2_starts, e2_offsets)]:
        for k, (r, s, off) in enumerate(zip(case_rows, starts, offsets)):
            if case_rows is d_rows or case_rows is e_rows:
                days.append(s)
                rows.append(r)
                acts.append(0)
            for i, o in enumerate(off):
                days.append(s + o)
                rows.append(r)
                acts.append(activity_of(i + 1, k))
    return np.array(days), np.array(rows), np.array(acts)


def plot_dots(ax, days, rows, acts):
    colors = [activity_colors[a] for a in acts]
    order = np.argsort(-acts, kind='stable')
    ax.scatter(days[order], rows[order], c=[colors[i] for i in order], s=15, linewidths=0, zorder=3)


def plot_density(ax, days, acts):
    grid = np.arange(-0.4, 98.1, 0.1)
    curves = []
    for a in range(len(activity_colors)):
        d = days[acts == a]
        kde = np.exp(-0.5 * ((grid[:, None] - d[None, :]) / 0.7) ** 2).sum(axis=1)
        curves.append(kde ** 0.25)
    top = max(c.max() for c in curves)
    for a in [0, 1, 3, 4, 6, 5, 7, 12, 11, 10, 9, 2, 8]:
        c = curves[a] / top
        ax.fill_between(grid, 0, c, color=activity_colors[a], alpha=0.17, linewidth=0)
        ax.plot(grid, c, color=activity_colors[a], lw=1.1, alpha=0.85)


def main():
    fig = plt.figure(figsize=(W / 100, H / 100), dpi=100, facecolor='white')
    plt.rcParams['font.family'] = ['Liberation Sans', 'DejaVu Sans']
    add_box(fig, 43, 23, 1310, 829, facecolor='#ebebeb', edgecolor='none', zorder=-5)
    add_box(fig, 4, 6, 1348, 835, facecolor='none', edgecolor='#707070', linewidth=1, zorder=-4)

    ax = fig.add_axes([px_x(88), px_y(707), (1309 - 88) / W, (707 - 23) / H])
    ax.set_xlim(-0.4, 98.15)
    ax.set_ylim(31.5, -1.3)
    days, rows, acts = collect_points()
    plot_dots(ax, days, rows, acts)

    ax.set_xticks(np.arange(len(x_labels)) * 7)
    ax.set_xticklabels(x_labels, fontsize=6.6, color='#222222')
    ax.set_yticks(np.arange(len(y_labels)))
    ax.set_yticklabels(y_labels, fontsize=6.8, color='#222222')
    ax.set_yticks([-1], minor=True)
    ax.grid(True, which='both', color='#e2e2e2', linestyle=(0, (1.5, 1.5)), linewidth=1, zorder=0)
    ax.set_axisbelow(True)
    ax.tick_params(axis='x', which='both', length=2, color='#aaaaaa', pad=1.5)
    ax.tick_params(axis='y', which='both', length=0, pad=4)
    ax.spines['top'].set_visible(False)
    for name in ['left', 'bottom', 'right']:
        ax.spines[name].set_color('#a8a8a8')
    ax.spines['left'].set_linewidth(1.4)
    ax.spines['right'].set_color('#dddddd')
    for label in ax.get_xticklabels():
        label.set_clip_box(Bbox([[0, 0], [1310, 829]]))
        label.set_clip_on(True)

    fig.text(px_x(698), px_y(729), 'Event: time:timestamp', ha='center', va='center', fontsize=7.3, color='#222222')
    fig.text(px_x(60), px_y(362), 'Trace: concept:name', ha='center', va='center', rotation=90, fontsize=7.3,
             color='#222222')

    # highlight boxes
    ax.add_patch(Rectangle((-0.6, -0.3), 98.4, 5.45, fill=False, edgecolor='#1414dc', linewidth=3, clip_on=False, zorder=5))
    ax.add_patch(Rectangle((34.2, -1.25), 17.3, 32.7, fill=False, edgecolor='#f01010', linewidth=3, clip_on=False, zorder=6))

    # splitter strip
    add_box(fig, 43, 742, 1310, 747, facecolor='#dcdcdc', edgecolor='#c4c4c4', linewidth=0.5, hatch='.....', zorder=-3)
    add_box(fig, 43, 747, 1310, 749, facecolor='#a4a8b0', edgecolor='none', zorder=-3)

    low = fig.add_axes([px_x(88), 0, (1309 - 88) / W, (829 - 749) / H])
    low.patch.set_alpha(0)
    low.set_xlim(-0.4, 98.15)
    low.set_ylim(0.198, 1.03)
    low.axis('off')
    plot_density(low, days, acts)

    fig.text(px_x(44), px_y(756), '100 % rendered', ha='left', va='center', fontsize=6.8, fontweight='bold', color='#333333')
    fig.text(px_x(44), px_y(769), 'in 0.02 sec.', ha='left', va='center', fontsize=6.8, fontweight='bold', color='#333333')

    fig.savefig('out.png', dpi=100)


main()
